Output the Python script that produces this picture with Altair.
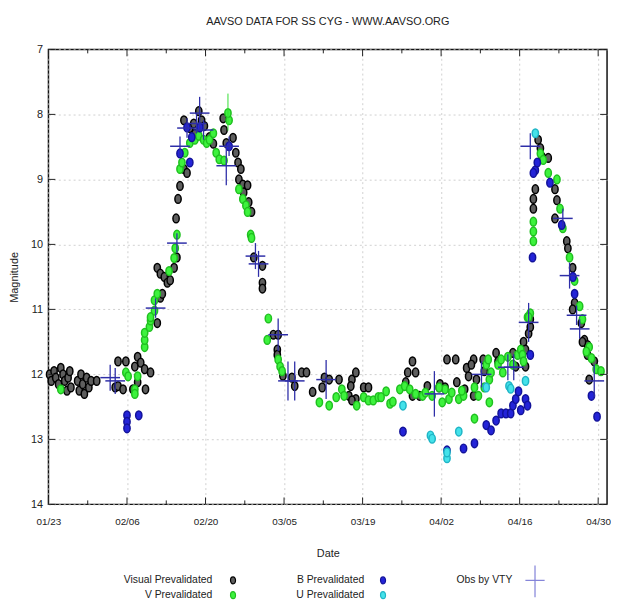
import altair as alt
import pandas as pd

T0 = pd.Timestamp("2012-01-23")

# ---------------- data (day offset from 01/23, magnitude) ----------------
vis_d = [0.2, 0.5, 1.0, 1.3, 1.8, 2.2, 2.6, 2.9, 3.3, 3.5, 3.8, 4.0,
         5.2, 5.5, 5.8, 6.1, 6.4, 6.8, 7.2, 7.6, 8.6,
         11.9, 12.4, 12.4, 13.3, 13.8, 15.05, 15.4, 15.9, 15.9, 16.45, 17.15, 17.3, 18.2,
         19.4, 19.95, 20.3, 19.4, 19.95, 20.65, 21.2, 21.7, 22.4, 22.9, 22.75, 23.1, 23.45,
         24.15, 24.7, 24.15, 25.2, 25.9, 26.8, 27.3, 27.8, 26.1, 28.7, 29.4,
         31.15, 31.3, 31.7, 32.9, 33.4, 33.8, 34.3, 33.95, 34.65, 34.8, 35.5, 35.7, 36.2,
         36.6, 38.15, 38.15, 38.15,
         40.1, 40.95, 40.8, 40.8, 41.8, 43.4, 43.9, 45.15, 46.0, 47.1, 48.8, 49.2, 50.05,
         51.8, 54.1, 54.8, 53.9, 53.55, 54.8, 54.1, 56.2, 57.05,
         64.9, 65.45, 64.05, 63.7, 64.9, 66.15, 67.55, 69.65,
         71.05, 72.6, 69.8, 70.7, 72.8, 74.2, 74.9, 74.55, 75.8, 75.4, 76.3, 75.8, 77.5, 77.7,
         79.8, 80.15, 82.8, 83.3, 84.7, 85.05, 85.6, 85.9, 85.05, 85.9,
         87.3, 87.7, 88.0, 86.8, 86.45, 86.45, 89.1, 90.3, 90.65, 90.3, 92.4, 92.6, 93.45,
         93.8, 93.45, 95.0, 95.55, 96.1, 95.2, 96.1, 97.3, 96.4]
vis_m = [12.0, 12.1, 11.95, 12.05, 12.15, 11.9, 12.0, 12.1, 12.25, 12.05, 11.95, 12.2,
         12.1, 12.25, 12.0, 12.15, 12.3, 12.05, 12.2, 12.1, 12.1,
         12.2, 11.8, 12.18, 12.23, 11.8, 12.23, 11.88, 11.73, 12.12, 11.82, 11.92, 12.23, 11.97,
         11.21, 10.82, 10.76, 10.36, 10.45, 10.5, 10.59, 10.55, 10.36, 10.2, 9.6, 9.3, 9.1,
         8.84, 8.9, 8.09, 8.21, 8.14, 7.95, 8.09, 8.18, 8.3, 8.35, 8.45,
         8.06, 8.24, 8.44, 8.36, 8.59, 8.74, 8.84, 9.0, 9.08, 9.2, 9.09, 9.35, 9.5,
         10.2, 10.33, 10.59, 10.68,
         11.39, 11.39, 11.62, 11.7, 12.02, 12.05, 12.18, 11.97, 11.97, 12.27, 12.2, 12.05, 12.08,
         12.08, 12.08, 11.97, 12.18, 12.33, 12.38, 12.4, 12.2, 12.2,
         11.8, 11.97, 11.97, 12.12, 12.33, 12.33, 12.18, 12.2,
         11.77, 11.77, 12.15, 12.2, 12.12, 12.23, 12.03, 11.9, 11.77, 11.85, 12.08, 12.33, 11.77, 11.95,
         11.67, 11.8, 11.67, 11.88, 11.5, 11.62, 11.37, 11.27, 11.88, 11.15,
         8.39, 8.52, 8.65, 9.15, 9.3, 9.45, 8.67, 9.15, 9.32, 9.6, 9.95, 10.06, 10.36,
         10.9, 11.0, 11.21, 11.47, 11.55, 11.5, 11.7, 11.8, 12.08]

v_d = [2.2,
       13.8, 14.2, 15.4, 15.4, 15.9, 17.15, 17.15,
       17.15, 18.0, 18.2, 18.9, 18.2, 18.9, 19.4, 21.5, 22.4, 22.6, 22.9, 23.45, 23.8, 24.3,
       25.2, 26.1, 26.8, 27.65, 28.2, 28.7, 29.4, 29.9, 30.45, 31.3, 32.2, 32.0, 33.95, 34.65,
       35.2, 35.5, 36.05, 36.2, 39.2, 39.0, 40.95, 41.3, 41.65,
       48.3, 50.05, 51.3, 52.3, 52.7, 54.95, 56.2, 57.05, 57.9, 58.8, 59.3, 60.2, 60.9, 61.4,
       62.65, 63.5, 64.4, 65.45, 66.7, 67.2, 68.4, 70.2, 70.7,
       69.65, 71.4, 71.9, 73.15, 74.0, 73.7, 75.95, 76.65, 77.7, 78.05, 78.4, 78.6, 78.9,
       78.6, 75.95, 80.15, 80.7, 81.0, 81.9, 82.8, 83.65, 84.2, 84.5, 84.7, 85.4, 85.9, 85.6,
       86.45, 86.45, 86.45, 87.7, 88.2, 89.1, 90.65, 91.2, 91.7, 92.9, 93.8, 94.7, 95.2,
       96.4, 95.9, 96.8, 97.65, 98.5]
v_m = [12.23,
       11.97, 12.03, 12.23, 12.3, 12.03, 11.58, 11.47,
       11.36, 11.27, 11.17, 11.02, 11.12, 10.86, 10.76, 10.41, 10.21, 10.06, 9.85, 8.84, 8.74, 8.59,
       8.44, 8.39, 8.33, 8.39, 8.44, 8.39, 8.29, 8.59, 8.69, 8.71, 8.09, 7.98, 9.15, 9.3,
       9.4, 9.5, 9.85, 9.9, 11.14, 11.47, 11.77, 11.88, 11.95,
       12.43, 12.48, 12.35, 12.23, 12.33, 12.48, 12.35, 12.4, 12.4, 12.35, 12.35, 12.26, 12.45, 12.42,
       12.23, 12.18, 12.23, 12.3, 12.33, 12.28, 12.33, 12.43, 12.23,
       12.2, 12.38, 12.28, 12.38, 12.33, 12.25, 12.2, 12.33, 12.2, 11.85, 11.77, 12.08, 11.97,
       12.43, 12.68, 11.85, 11.77, 11.97, 11.73, 11.85, 11.7, 11.62, 11.7, 11.8, 11.12, 11.06, 11.12,
       9.65, 9.8, 9.95, 8.6, 8.7, 8.9, 9.0, 9.45, 9.75, 10.2, 10.56, 10.95, 11.15,
       11.58, 11.65, 11.75, 11.92, 11.95]

b_d = [14.0, 14.0, 14.0, 16.1,
       24.7, 25.2, 25.55, 27.0, 32.2, 23.45,
       63.2, 71.05, 74.0, 75.95, 78.05, 78.9, 79.8, 80.7, 81.55, 82.4, 82.8, 83.3, 83.8, 84.2,
       85.05, 85.4, 85.9,
       86.3, 86.8, 87.15, 86.45, 89.4, 91.5, 93.5, 93.8, 96.8, 97.8]
b_m = [12.63, 12.73, 12.83, 12.63,
       8.2, 8.74, 8.35, 8.2, 8.49, 8.6,
       12.88, 13.17, 13.14, 13.06, 12.78, 12.86, 12.71, 12.6, 12.6, 12.6, 12.48, 12.38, 12.26, 12.55,
       12.38, 12.48, 11.7,
       10.2, 8.86, 8.74, 8.9, 9.05, 9.7, 10.5, 10.76, 12.33, 12.65]

u_d = [63.2, 68.1, 68.4, 71.05, 71.05, 73.15, 78.05, 82.1, 82.4, 85.05, 86.8]
u_m = [12.48, 12.94, 12.99, 13.29, 13.2, 12.88, 12.2, 12.18, 12.22, 12.1, 8.29]

vty_d = [11.0, 11.9, 19.1, 22.9, 23.45, 24.7, 26.4, 26.95, 27.65, 31.7, 32.2, 36.9, 37.45,
         40.95, 42.7, 43.9, 49.5, 68.8, 77.2, 81.9, 82.95, 85.6, 85.9, 91.7, 92.9, 94.15,
         94.7, 97.3]
vty_m = [12.05, 12.1, 10.98, 9.98, 8.49, 8.21, 8.14, 7.98, 8.24, 8.79, 8.49, 10.18, 10.3,
         11.39, 12.1, 12.1, 12.08, 12.3, 12.0, 11.89, 11.89, 11.2, 8.49, 9.6, 10.48, 11.09,
         11.3, 12.1]
vty_e = [0.2, 0.2, 0.15, 0.15, 0.15, 0.15, 0.15, 0.25, 0.15, 0.3, 0.15, 0.2, 0.2,
         0.25, 0.3, 0.3, 0.3, 0.35, 0.2, 0.2, 0.2, 0.3, 0.2, 0.15, 0.2, 0.15,
         0.15, 0.25]

v_err_d = [32.0]
v_err_lo = [7.68]
v_err_hi = [8.25]

major_ticks = ["01/23", "02/06", "02/20", "03/05", "03/19", "04/02", "04/16", "04/30"]
minor_ticks = ["01/30", "02/13", "02/27", "03/12", "03/26", "04/09", "04/23"]
mag_ticks = [7, 8, 9, 10, 11, 12, 13, 14]

legend_labels = ["Visual Prevalidated", "V Prevalidated", "B Prevalidated",
                 "U Prevalidated", "Obs by VTY"]

# ---------------- helpers ----------------
def to_iso(days):
    return [(T0 + pd.Timedelta(days=x)).strftime("%Y-%m-%dT%H:%M:%S") for x in days]

def md_iso(labels):
    return ["2012-" + s.replace("/", "-") + "T00:00:00" for s in labels]

def frame(d, m):
    return pd.DataFrame({"date": to_iso(d), "mag": m})

FONT = "Liberation Sans, Arial, sans-serif"
TXT = "#222222"
W, H = 566, 461

xscale = alt.Scale(domain=[alt.DateTime(year=2012, month=1, date=23),
                           alt.DateTime(year=2012, month=5, date=1, hours=14)], nice=False)
yscale = alt.Scale(domain=[7, 14], reverse=True, nice=False)

xaxis = alt.Axis(values=md_iso(major_ticks), format="%m/%d", grid=True, ticks=False,
                 tickSize=0, domain=False, labelPadding=12, titlePadding=22,
                 labelFlush=False, labelFontSize=10)
yaxis = alt.Axis(values=mag_ticks, grid=True, ticks=False, tickSize=0, domain=False,
                 labelPadding=6, titlePadding=11, labelFontSize=11)

X = alt.X("date:T", scale=xscale, axis=xaxis, title="Date")
Y = alt.Y("mag:Q", scale=yscale, axis=yaxis, title="Magnitude")

ELL = "M0,-1A0.72,1,0,1,1,0,1A0.72,1,0,1,1,0,-1Z"
HBAR = "M-1,0L1,0"

def pts(d, m, fill, stroke):
    return alt.Chart(frame(d, m)).mark_point(
        shape=ELL, filled=True, fill=fill, stroke=stroke, strokeWidth=1.5,
        size=78, opacity=1).encode(x=X, y=Y)

BLACK_F, BLACK_S = "#5e5e5e", "#000000"
GREEN_F, GREEN_S = "#3df23d", "#1fc01f"
BLUE_F, BLUE_S = "#2424d8", "#12129a"
CYAN_F, CYAN_S = "#44e2ea", "#1fb5c6"
VTY_C = "#2e2ea8"

vis_layer = pts(vis_d, vis_m, BLACK_F, BLACK_S)
v_layer = pts(v_d, v_m, GREEN_F, GREEN_S)
b_layer = pts(b_d, b_m, BLUE_F, BLUE_S)
u_layer = pts(u_d, u_m, CYAN_F, CYAN_S)

verr_df = pd.DataFrame({"date": to_iso(v_err_d), "lo": v_err_lo, "hi": v_err_hi})
verr_layer = alt.Chart(verr_df).mark_rule(color="#33dd33", strokeWidth=1).encode(
    x=X, y=alt.Y("lo:Q", scale=yscale, axis=yaxis, title="Magnitude"), y2="hi:Q")

vty_df = pd.DataFrame({"date": to_iso(vty_d), "mag": vty_m,
                       "lo": [a - e for a, e in zip(vty_m, vty_e)],
                       "hi": [a + e for a, e in zip(vty_m, vty_e)]})
vty_bar = alt.Chart(vty_df).mark_rule(color=VTY_C, strokeWidth=1.3).encode(
    x=X, y=alt.Y("lo:Q", scale=yscale, axis=yaxis, title="Magnitude"), y2="hi:Q")
vty_pt = alt.Chart(vty_df).mark_point(shape=HBAR, stroke=VTY_C, strokeWidth=1.5,
                                      size=400, opacity=1).encode(x=X, y=Y)

# inward ticks (gnuplot style)
maj_df = pd.DataFrame({"date": md_iso(major_ticks)})
min_df = pd.DataFrame({"date": md_iso(minor_ticks)})
mag_df = pd.DataFrame({"mag": mag_ticks})

def xticks(df, length):
    top = alt.Chart(df).mark_rule(color=TXT, strokeWidth=1).encode(
        x=X, y=alt.value(0), y2=alt.value(length))
    bot = alt.Chart(df).mark_rule(color=TXT, strokeWidth=1).encode(
        x=X, y=alt.value(H), y2=alt.value(H - length))
    return [top, bot]

yt_left = alt.Chart(mag_df).mark_rule(color=TXT, strokeWidth=1).encode(
    y=Y, x=alt.value(0), x2=alt.value(7))
yt_right = alt.Chart(mag_df).mark_rule(color=TXT, strokeWidth=1).encode(
    y=Y, x=alt.value(W - 7), x2=alt.value(W))

# manual legend (labels left of symbols, as in the reference)
ROW1, ROW2 = H + 77, H + 92
def leg_text(label, x, y):
    return alt.Chart(pd.DataFrame({"t": [label]})).mark_text(
        align="right", baseline="middle", font=FONT, fontSize=10.5, color=TXT).encode(
        x=alt.value(x), y=alt.value(y), text="t:N")

def leg_sym(x, y, fill, stroke):
    return alt.Chart(pd.DataFrame({"t": [0]})).mark_point(
        shape=ELL, filled=True, fill=fill, stroke=stroke, strokeWidth=1.2, size=50,
        opacity=1).encode(x=alt.value(x), y=alt.value(y))

legend = [
    leg_text(legend_labels[0], 166, ROW1), leg_sym(187, ROW1, BLACK_F, BLACK_S),
    leg_text(legend_labels[1], 166, ROW2), leg_sym(187, ROW2, GREEN_F, GREEN_S),
    leg_text(legend_labels[2], 320, ROW1), leg_sym(339, ROW1, BLUE_F, BLUE_S),
    leg_text(legend_labels[3], 320, ROW2), leg_sym(339, ROW2, CYAN_F, CYAN_S),
    leg_text(legend_labels[4], 470, ROW1),
    alt.Chart(pd.DataFrame({"t": [0]})).mark_point(
        shape=HBAR, stroke="#8080d8", strokeWidth=1.2, size=380, opacity=1).encode(
        x=alt.value(493), y=alt.value(ROW1)),
    alt.Chart(pd.DataFrame({"t": [0]})).mark_rule(color="#8080d8", strokeWidth=1.2).encode(
        x=alt.value(493), y=alt.value(ROW1 - 15), y2=alt.value(ROW1 + 17)),
]

chart = alt.layer(
    vis_layer, v_layer, verr_layer, b_layer, u_layer, vty_bar, vty_pt,
    *xticks(maj_df, 7), *xticks(min_df, 4), yt_left, yt_right, *legend
).properties(
    width=W, height=H,
    title=alt.TitleParams("AAVSO DATA FOR SS CYG - WWW.AAVSO.ORG", font=FONT,
                          fontSize=11, fontWeight="normal", color=TXT,
                          anchor="middle", offset=17),
    padding={"left": 41, "top": 38, "right": 4, "bottom": 98},
    autosize=alt.AutoSizeParams(type="none"),
).configure_view(
    stroke="#111111", strokeWidth=1.5
).configure_axis(
    labelFont=FONT, labelColor=TXT,
    titleFont=FONT, titleFontSize=11, titleFontWeight="normal", titleColor=TXT,
    gridColor="#cfcfcf", gridDash=[2, 3], gridWidth=1
)

chart.save("out.html", embed_options={"renderer": "svg", "actions": False})
